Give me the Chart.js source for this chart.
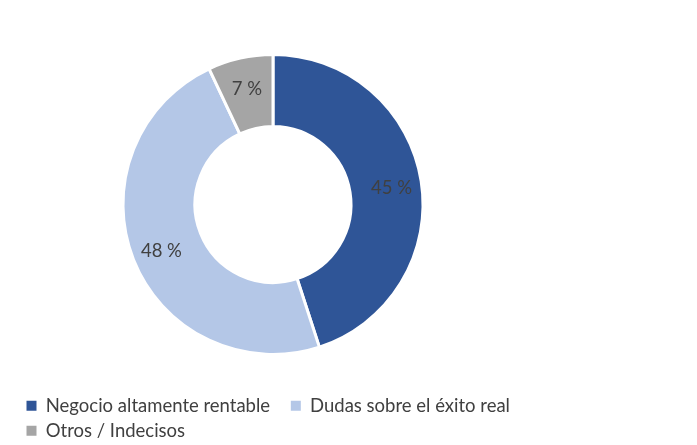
<!DOCTYPE html>
<html>
<head>
<meta charset="utf-8">
<script src="https://cdn.jsdelivr.net/npm/chart.js@4"></script>
<style>
  html, body { margin: 0; padding: 0; background: #fff; overflow: hidden; }
  #wrap { position: absolute; left: 0; top: 0; width: 546px; height: 450px; }
</style>
</head>
<body>
<div id="wrap"><canvas id="donut"></canvas></div>
<script>
// Chart data
const categories = ['Negocio altamente rentable', 'Dudas sobre el éxito real', 'Otros / Indecisos'];
const shares = [45, 48, 7];
const sliceColors = ['#2F5597', '#B4C7E7', '#A5A5A5'];

// Percent labels drawn inside each slice
const sliceLabels = {
  id: 'sliceLabels',
  afterDatasetsDraw(chart) {
    const ctx = chart.ctx;
    const meta = chart.getDatasetMeta(0);
    ctx.save();
    ctx.font = '18.5px Lato';
    ctx.fillStyle = '#404040';
    ctx.textAlign = 'center';
    ctx.textBaseline = 'middle';
    meta.data.forEach((arc, i) => {
      const mid = (arc.startAngle + arc.endAngle) / 2;
      const r = arc.outerRadius * 0.8;
      const x = arc.x + Math.cos(mid) * r;
      const y = arc.y + Math.sin(mid) * r + 2;
      ctx.fillText(shares[i] + ' %', x, y);
    });
    ctx.restore();
  }
};

const ctx = document.getElementById('donut').getContext('2d');
new Chart(ctx, {
  type: 'doughnut',
  data: {
    labels: categories,
    datasets: [{
      data: shares,
      backgroundColor: sliceColors,
      borderColor: '#ffffff',
      borderWidth: 3,
      radius: 150,
      cutout: '52%'
    }]
  },
  options: {
    responsive: true,
    maintainAspectRatio: false,
    animation: false,
    layout: {
      padding: { top: 19, left: 20, right: 20, bottom: 0 }
    },
    plugins: {
      legend: {
        position: 'bottom',
        align: 'start',
        labels: {
          boxWidth: 10,
          boxHeight: 10,
          padding: 6.5,
          color: '#404040',
          font: { family: 'Lato', size: 18.5 },
          generateLabels(chart) {
            // square markers without the white slice border
            return Chart.overrides.doughnut.plugins.legend.labels.generateLabels(chart).map((item, i) => {
              item.lineWidth = 0;
              item.strokeStyle = item.fillStyle;
              if (i === 0) item.text += '   '; // a bit more room before the 2nd entry
              return item;
            });
          }
        }
      },
      tooltip: { enabled: false }
    }
  },
  plugins: [sliceLabels]
});
</script>
</body>
</html>
